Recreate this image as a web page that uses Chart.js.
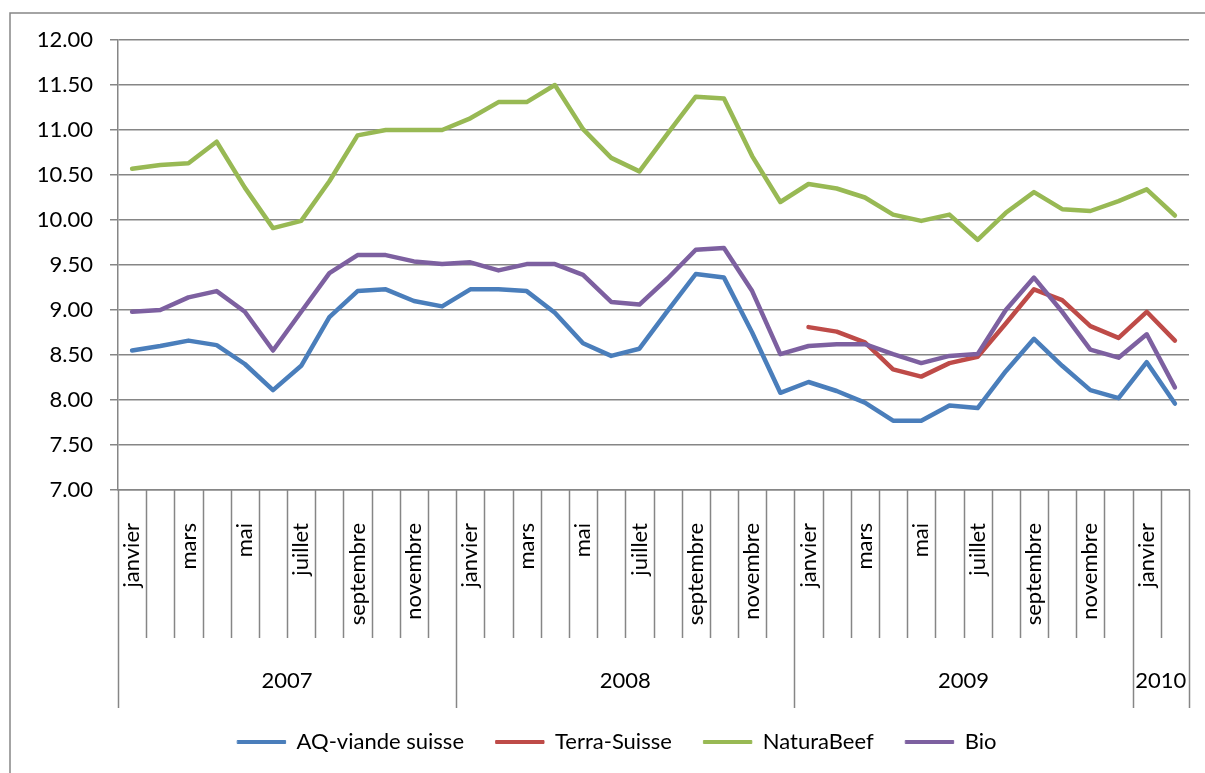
<!DOCTYPE html>
<html>
<head>
<meta charset="UTF-8">
<title>Prix viande</title>
<script src="https://cdn.jsdelivr.net/npm/chart.js"></script>
<style>
*{margin:0;padding:0}
body{background:#fff}
</style>
</head>
<body>
<canvas id="c" width="1205" height="773"></canvas>
<script>
// mois (38 points: janvier 2007 - février 2010)
var months = [
  "janvier","février","mars","avril","mai","juin","juillet","août","septembre","octobre","novembre","décembre",
  "janvier","février","mars","avril","mai","juin","juillet","août","septembre","octobre","novembre","décembre",
  "janvier","février","mars","avril","mai","juin","juillet","août","septembre","octobre","novembre","décembre",
  "janvier","février"
];
var years = ["2007","2008","2009","2010"];
var yearLengths = [12,12,12,2];

var aq = [8.55,8.60,8.66,8.61,8.40,8.11,8.38,8.92,9.21,9.23,9.10,9.04,
          9.23,9.23,9.21,8.97,8.63,8.49,8.57,8.99,9.40,9.36,8.75,8.08,
          8.20,8.10,7.97,7.77,7.77,7.94,7.91,8.32,8.68,8.38,8.11,8.02,
          8.42,7.96];
var terra = [null,null,null,null,null,null,null,null,null,null,null,null,
             null,null,null,null,null,null,null,null,null,null,null,null,
             8.81,8.76,8.64,8.34,8.26,8.41,8.48,8.85,9.23,9.11,8.82,8.69,
             8.98,8.66];
var natura = [10.57,10.61,10.63,10.87,10.36,9.91,9.99,10.43,10.94,11.00,11.00,11.00,
              11.13,11.31,11.31,11.50,11.01,10.69,10.54,10.96,11.37,11.35,10.71,10.20,
              10.40,10.35,10.25,10.06,9.99,10.06,9.78,10.08,10.31,10.12,10.10,10.21,
              10.34,10.05];
var bio = [8.98,9.00,9.14,9.21,8.98,8.55,8.98,9.41,9.61,9.61,9.54,9.51,
           9.53,9.44,9.51,9.51,9.39,9.09,9.06,9.35,9.67,9.69,9.21,8.51,
           8.60,8.62,8.62,8.51,8.41,8.49,8.51,9.00,9.36,8.98,8.56,8.47,
           8.73,8.14];

var gray = "#868686";
var fontFamily = 'Lato, "Open Sans", sans-serif';

Chart.defaults.font.family = fontFamily;
Chart.defaults.font.size = 22;
Chart.defaults.color = "#000";

function serie(label, data, color, order){
  return {
    label: label, data: data, order: order,
    borderColor: color, backgroundColor: color,
    borderWidth: 4.5, pointRadius: 0, tension: 0,
    borderJoinStyle: "round", borderCapStyle: "round",
    spanGaps: false
  };
}

// cadre, séparateurs et années de l'axe à deux niveaux
var decor = {
  id: "decor",
  beforeDraw: function(chart){
    var ctx = chart.ctx;
    ctx.save();
    ctx.strokeStyle = gray;
    ctx.lineWidth = 1.5;
    ctx.strokeRect(10, 13, 1400, 1000);
    ctx.restore();
  },
  afterDraw: function(chart){
    var x = chart.scales.x, ctx = chart.ctx;
    var w = (x.right - x.left) / months.length;
    var top = chart.chartArea.bottom;
    var bounds = [0], s = 0;
    yearLengths.forEach(function(n){ s += n; bounds.push(s); });
    ctx.save();
    ctx.strokeStyle = gray;
    ctx.lineWidth = 1.5;
    ctx.beginPath();
    for (var i = 0; i <= months.length; i++) {
      var px = Math.round(x.getPixelForValue(i) - w / 2) + 0.5;
      var bottom = bounds.indexOf(i) >= 0 ? top + 218 : top + 148;
      ctx.moveTo(px, top);
      ctx.lineTo(px, bottom);
    }
    ctx.stroke();
    ctx.font = "22px " + fontFamily;
    ctx.fillStyle = "#000";
    ctx.textAlign = "center";
    ctx.textBaseline = "middle";
    years.forEach(function(y, k){
      var c = x.getPixelForValue(bounds[k] + yearLengths[k] / 2 - 0.5);
      ctx.fillText(y, c, top + 191);
    });
    ctx.restore();
  }
};

new Chart(document.getElementById("c"), {
  type: "line",
  data: {
    labels: months,
    datasets: [
      serie("AQ-viande suisse", aq, "#4A7EBB", 3),
      serie("Terra-Suisse", terra, "#BE4B48", 2),
      serie("NaturaBeef", natura, "#98B954", 1),
      serie("Bio", bio, "#7D60A0", 0)
    ]
  },
  options: {
    responsive: false,
    devicePixelRatio: 1,
    animation: false,
    layout: { padding: { left: 24, right: -5, top: 40, bottom: 10 } },
    plugins: {
      tooltip: { enabled: false },
      legend: {
        position: "bottom",
        labels: {
          boxWidth: 48, boxHeight: 3, padding: 32, color: "#000",
          sort: function(a, b){ return a.datasetIndex - b.datasetIndex; },
          generateLabels: function(chart){
            var items = Chart.defaults.plugins.legend.labels.generateLabels(chart);
            items.forEach(function(it){ it.lineWidth = 1; });
            return items;
          }
        }
      }
    },
    scales: {
      x: {
        offset: true,
        grid: { display: false },
        border: { display: true, color: gray, width: 1.5 },
        ticks: {
          autoSkip: false, minRotation: 90, maxRotation: 90, padding: 25,
          callback: function(v, i){ return i % 2 === 0 ? months[i] : ""; }
        },
        afterFit: function(scale){
          scale.height = 209;
          scale.paddingLeft = 0;
          scale.paddingRight = 16;
        }
      },
      y: {
        min: 7, max: 12,
        grid: { color: gray, lineWidth: 1.5, tickLength: 8 },
        border: { color: gray, width: 1.5 },
        ticks: {
          stepSize: 0.5, padding: 17,
          callback: function(v){ return v.toFixed(2); }
        },
        afterFit: function(scale){ scale.width = 94; }
      }
    }
  },
  plugins: [decor]
});
</script>
</body>
</html>
